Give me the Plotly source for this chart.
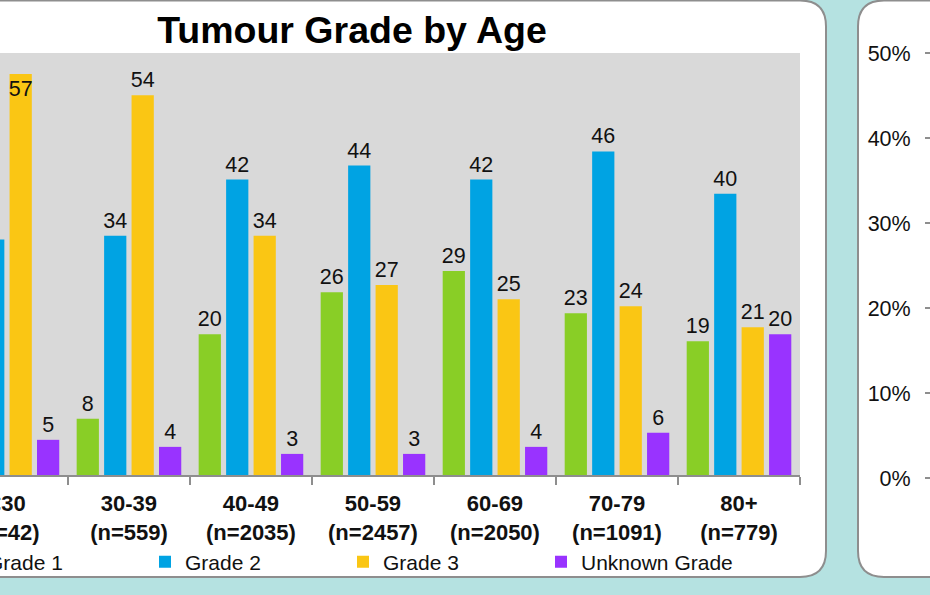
import plotly.graph_objects as go

# ---------------- data ----------------
age_groups = ["<30", "30-39", "40-49", "50-59", "60-69", "70-79", "80+"]
patients_n = [42, 559, 2035, 2457, 2050, 1091, 779]
grade_1 = [5, 8, 20, 26, 29, 23, 19]
grade_2 = [33.5, 34, 42, 44, 42, 46, 40]
grade_3 = [57, 54, 34, 27, 25, 24, 21]
grade_unknown = [5, 4, 3, 3, 4, 6, 20]
series_names = ["Grade 1", "Grade 2", "Grade 3", "Unknown Grade"]
right_ticks = [0, 0.1, 0.2, 0.3, 0.4, 0.5]
right_tick_labels = ["0%", "10%", "20%", "30%", "40%", "50%"]

# ---------------- styling ----------------
W, H = 930, 595
PLOT_TOP, PLOT_BOTTOM = 53, 478
FONT = "Liberation Sans, Arial, sans-serif"
colors = ["#89CE26", "#00A3E3", "#FAC614", "#9933FF"]
teal = "#B5E2E1"
border = "#8E8E8E"


def px_x(p):
    return p / W


def px_y(p):
    return (PLOT_BOTTOM - p) / (PLOT_BOTTOM - PLOT_TOP)


tick_text = [f"<b>{a}</b><br><b>(n={n})</b>" for a, n in zip(age_groups, patients_n)]

positions = {
    "Grade 1": ["outside"] * len(age_groups),
    "Grade 2": ["none"] + ["outside"] * (len(age_groups) - 1),
    "Grade 3": ["inside"] + ["outside"] * (len(age_groups) - 1),
    "Unknown Grade": ["outside"] * len(age_groups),
}

fig = go.Figure()
for name, vals, col in zip(series_names, [grade_1, grade_2, grade_3, grade_unknown], colors):
    fig.add_trace(go.Bar(
        name=name, x=age_groups, y=vals,
        marker=dict(color=col, line=dict(width=0)),
        texttemplate="%{y:.0f}",
        textposition=positions[name],
        insidetextanchor="end",
        constraintext="none",
        textfont=dict(family=FONT, size=21.5, color="#111111"),
        cliponaxis=True,
        hoverinfo="skip",
    ))

# dummy trace so the right-hand panel axis exists
fig.add_trace(go.Scatter(x=[], y=[], yaxis="y2", showlegend=False, hoverinfo="skip"))


def left_panel(x0, x1, top, bottom, r):
    return (f"M {px_x(x0)},{px_y(top)} L {px_x(x1 - r)},{px_y(top)} "
            f"Q {px_x(x1)},{px_y(top)} {px_x(x1)},{px_y(top + r)} "
            f"L {px_x(x1)},{px_y(bottom - r)} "
            f"Q {px_x(x1)},{px_y(bottom)} {px_x(x1 - r)},{px_y(bottom)} "
            f"L {px_x(x0)},{px_y(bottom)} Z")


def right_panel(x0, x1, top, bottom, r):
    return (f"M {px_x(x1)},{px_y(top)} L {px_x(x0 + r)},{px_y(top)} "
            f"Q {px_x(x0)},{px_y(top)} {px_x(x0)},{px_y(top + r)} "
            f"L {px_x(x0)},{px_y(bottom - r)} "
            f"Q {px_x(x0)},{px_y(bottom)} {px_x(x0 + r)},{px_y(bottom)} "
            f"L {px_x(x1)},{px_y(bottom)} Z")


shapes = [
    dict(type="path", xref="paper", yref="paper", layer="below",
         path=left_panel(-40, 826, 0.5, 577, 26),
         fillcolor="white", line=dict(color=border, width=2)),
    dict(type="path", xref="paper", yref="paper", layer="below",
         path=right_panel(858, 980, 0.5, 577, 26),
         fillcolor="white", line=dict(color=border, width=2)),
    dict(type="rect", xref="x domain", yref="y domain", layer="below",
         x0=0, x1=1, y0=0, y1=1, fillcolor="#D9D9D9", line=dict(width=0)),
]

fig.update_layout(
    width=W, height=H,
    margin=dict(l=0, r=0, t=PLOT_TOP, b=H - PLOT_BOTTOM, autoexpand=False),
    paper_bgcolor=teal,
    plot_bgcolor="rgba(0,0,0,0)",
    barmode="group", bargap=0.1, bargroupgap=0.19,
    shapes=shapes,
    title=dict(text="<b>Tumour Grade by Age</b>", x=px_x(352), xanchor="center",
               y=1 - 30 / H, yanchor="middle", xref="paper",
               font=dict(family=FONT, size=37.5, color="#000000")),
    xaxis=dict(
        domain=[0, 800 / W], range=[-0.057, 6.5], type="category",
        tickvals=age_groups, ticktext=tick_text,
        tickson="boundaries", ticks="outside", ticklen=8, tickwidth=1.5, tickcolor=border,
        showline=True, linecolor=border, linewidth=1.5,
        showgrid=False, zeroline=False, automargin=False,
        tickfont=dict(family=FONT, size=22, color="#111111"),
        ticklabelstandoff=8,
    ),
    yaxis=dict(
        domain=[px_y(475), 1], range=[0, 60], visible=False, showgrid=False,
    ),
    yaxis2=dict(
        domain=[0, 1], range=[0, 0.5], anchor="free", position=1.0, side="left",
        tickvals=right_ticks, ticktext=right_tick_labels,
        ticks="outside", ticklen=5, tickcolor=border, tickwidth=1.5,
        showline=False, showgrid=False, zeroline=False, automargin=False,
        tickfont=dict(family=FONT, size=21.5, color="#111111"),
        ticklabelstandoff=10,
    ),
    legend=dict(
        orientation="h", x=px_x(-53), xanchor="left", y=px_y(562), yanchor="middle",
        font=dict(family=FONT, size=21, color="#111111"),
        bgcolor="rgba(0,0,0,0)", entrywidth=153, entrywidthmode="pixels",
        itemclick=False, itemdoubleclick=False, traceorder="normal",
    ),
    showlegend=True,
)

fig.write_html(
    "out.html",
    config={"displayModeBar": False},
    post_script="document.body.style.margin='0px';document.body.style.overflow='hidden';",
)
